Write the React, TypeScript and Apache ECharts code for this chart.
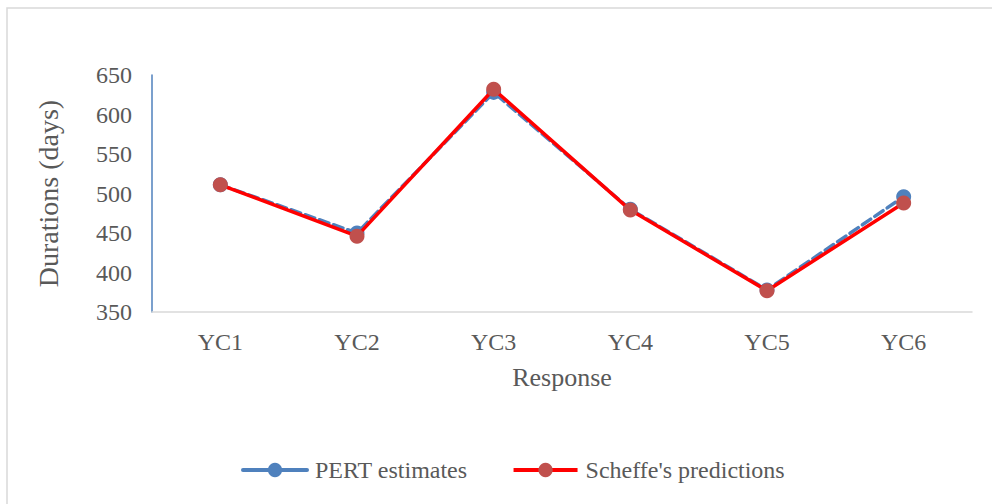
import React, { useEffect, useRef } from "react";
import * as echarts from "echarts";

const categories = ["YC1", "YC2", "YC3", "YC4", "YC5", "YC6"];
const pertEstimates = [511, 450, 628, 480, 378, 496];
const scheffePredictions = [511, 446, 632, 479, 377, 488];
const yMin = 350;
const yMax = 650;
const yStep = 50;

export default function App() {
  const ref = useRef<HTMLDivElement>(null);
  useEffect(() => {
    if (!ref.current) return;
    const chart = echarts.init(ref.current, undefined, { renderer: "svg" });
    const font = "'Liberation Serif', 'Times New Roman', serif";
    chart.setOption({
      animation: false,
      backgroundColor: "#ffffff",
      textStyle: { fontFamily: font },
      graphic: [
        {
          type: "rect",
          shape: { x: 7, y: 8, width: 1000, height: 520 },
          style: { fill: "none", stroke: "#d9d9d9", lineWidth: 1.5 },
          silent: true,
        },
      ],
      grid: { left: 152, right: 20, top: 75, bottom: 192, containLabel: false },
      legend: {
        bottom: 17,
        left: 236,
        itemWidth: 64,
        itemHeight: 18,
        itemGap: 44,
        textStyle: { fontFamily: font, fontSize: 24, color: "#595959", padding: [0, 0, 0, 3] },
        data: [
          { name: "PERT estimates", lineStyle: { type: "solid", width: 4 } },
          { name: "Scheffe's predictions", lineStyle: { width: 4 } },
        ],
      },
      xAxis: {
        type: "category",
        data: categories,
        boundaryGap: true,
        name: "Response",
        nameLocation: "middle",
        nameGap: 52,
        nameTextStyle: { fontFamily: font, fontSize: 26, color: "#595959" },
        axisLine: { show: true, lineStyle: { color: "#d9d9d9", width: 1.5 } },
        axisTick: { show: false },
        axisLabel: { margin: 18, fontFamily: font, fontSize: 24, color: "#595959" },
        splitLine: { show: false },
      },
      yAxis: {
        type: "value",
        min: yMin,
        max: yMax,
        interval: yStep,
        name: "Durations (days)",
        nameLocation: "middle",
        nameGap: 90,
        nameRotate: 90,
        nameTextStyle: { fontFamily: font, fontSize: 28, color: "#595959" },
        axisLine: { show: true, lineStyle: { color: "#4f81bd", width: 1.5 } },
        axisTick: { show: false },
        axisLabel: { margin: 20, fontFamily: font, fontSize: 24, color: "#595959" },
        splitLine: { show: false },
      },
      series: [
        {
          name: "PERT estimates",
          type: "line",
          data: pertEstimates,
          symbol: "circle",
          symbolSize: 15,
          lineStyle: { color: "#4f81bd", width: 3.5, type: [10, 5], cap: "round" },
          itemStyle: { color: "#4f81bd" },
          z: 2,
        },
        {
          name: "Scheffe's predictions",
          type: "line",
          data: scheffePredictions,
          symbol: "circle",
          symbolSize: 15,
          lineStyle: { color: "#ff0000", width: 3.5 },
          itemStyle: { color: "#c0504d" },
          z: 3,
        },
      ],
    });
    return () => chart.dispose();
  }, []);
  return (
    <div
      ref={ref}
      style={{ position: "fixed", left: 0, top: 0, width: 992, height: 504 }}
    />
  );
}
